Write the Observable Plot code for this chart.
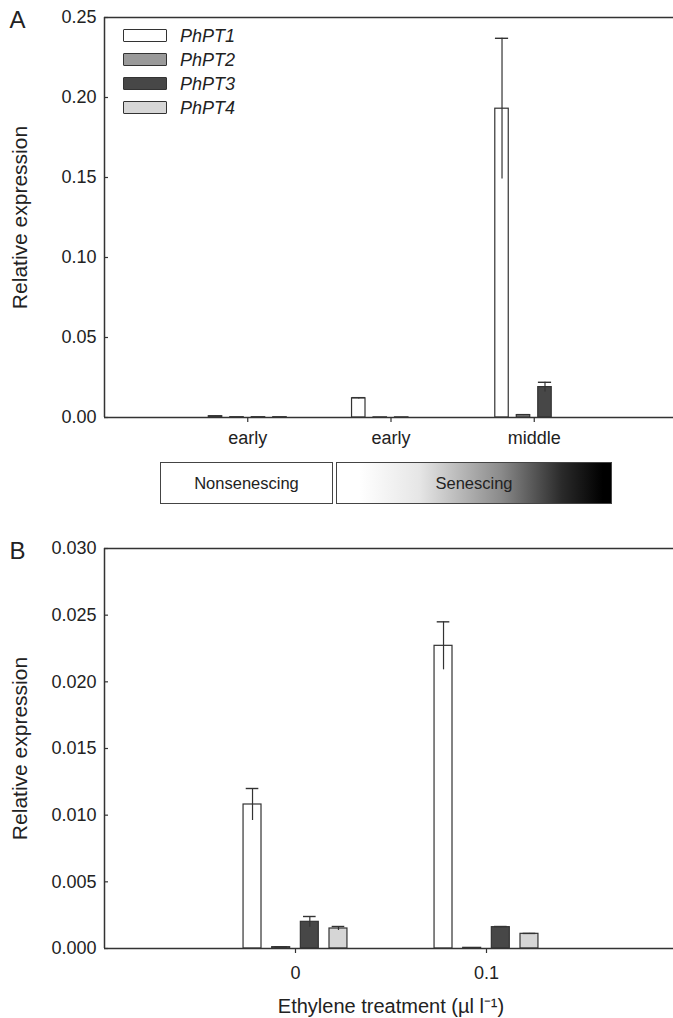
<!DOCTYPE html>
<html>
<head>
<meta charset="utf-8">
<script src="https://cdn.jsdelivr.net/npm/d3@7"></script>
<script src="https://cdn.jsdelivr.net/npm/@observablehq/plot@0.6"></script>
<style>
  html, body { margin: 0; padding: 0; background: #fff; }
  #wrap { position: relative; width: 673px; height: 1018px; font-family: "Liberation Sans", Arial, sans-serif; color: #222; overflow: hidden; }
  .lgbox { position: absolute; width: 42px; height: 11px; border: 1.3px solid #333; border-radius: 1px; }
  .lgtxt { position: absolute; font-size: 18px; font-style: italic; line-height: 18px; }
  .stage { position: absolute; top: 462px; height: 40px; border: 1.5px solid #444; font-size: 16.5px; display: flex; align-items: center; justify-content: center; }
</style>
</head>
<body>
<div id="wrap"></div>
<script>
// ---------- data ----------
const series = ["PhPT1", "PhPT2", "PhPT3", "PhPT4"];
const seriesColors = ["#ffffff", "#9a9a9a", "#474747", "#d6d6d6"];

// Panel A: developmental stages
const stageLabels = ["early", "early", "middle"];
const pt1A = [0.0008, 0.0120, 0.1930];
const pt2A = [0.0002, 0.0001, 0.0015];
const pt3A = [0.0002, 0.0001, 0.0190];
const pt4A = [0.0002, 0.0000, 0.0000];
const errPt1A = [0.0001, 0.0004, 0.0440];
const errPt2A = [0.0000, 0.0000, 0.0003];
const errPt3A = [0.0000, 0.0000, 0.0030];
const errPt4A = [0.0000, 0.0000, 0.0000];
const yTicksA = [0, 0.05, 0.10, 0.15, 0.20, 0.25];

// Panel B: ethylene treatment
const treatLabels = ["0", "0.1"];
const pt1B = [0.0108, 0.0227];
const pt2B = [0.0001, 0.00005];
const pt3B = [0.0020, 0.0016];
const pt4B = [0.0015, 0.0011];
const errPt1B = [0.0012, 0.0018];
const errPt2B = [0.00002, 0.0000];
const errPt3B = [0.0004, 0.00005];
const errPt4B = [0.00015, 0.00003];
const yTicksB = [0, 0.005, 0.010, 0.015, 0.020, 0.025, 0.030];

// ---------- helpers ----------
const FONT = '"Liberation Sans", Arial, sans-serif';
const STEP = 0.15;      // spacing of bars within a group (x units)
const HALF = 0.047;     // half bar width (x units)
const WIDTH = 673, ML = 104, MR = -4;

function buildRows(valueArrs, errArrs) {
  const rows = [];
  series.forEach((s, si) => {
    valueArrs[si].forEach((v, g) => {
      const x = g + 1 + (si - 1.5) * STEP;
      rows.push({ series: s, g, x, x1: x - HALF, x2: x + HALF, value: v, err: errArrs[si][g] });
    });
  });
  return rows;
}

const rowsA = buildRows([pt1A, pt2A, pt3A, pt4A], [errPt1A, errPt2A, errPt3A, errPt4A]);
const rowsB = buildRows([pt1B, pt2B, pt3B, pt4B], [errPt1B, errPt2B, errPt3B, errPt4B]);

function panel({ rows, labels, yMax, yTicks, fmt, height, marginTop, marginBottom, cap, letter, xTickPad, xLabel }) {
  const errRows = rows.filter(d => d.err > 0);
  const xMax = labels.length + 1;
  const tickLen = 4 * xMax / (WIDTH - ML - MR); // 4px inward y ticks, in x units
  const marks = [
    Plot.rectY(rows, { x1: "x1", x2: "x2", y: "value", fill: "series", stroke: "#333", strokeWidth: 1.2 }),
    Plot.ruleX(errRows, { x: "x", y1: d => d.value - d.err, y2: d => d.value + d.err, stroke: "#333", strokeWidth: 1.2 }),
    Plot.ruleY(errRows, { y: d => d.value + d.err, x1: d => d.x - cap, x2: d => d.x + cap, stroke: "#333", strokeWidth: 1.4 }),
    Plot.ruleY([0], { stroke: "#333", strokeWidth: 1.5 }),
    Plot.ruleY([yMax], { stroke: "#333", strokeWidth: 1.5 }),
    Plot.ruleX([0], { stroke: "#333", strokeWidth: 1.5 }),
    Plot.ruleY(yTicks, { x1: 0, x2: tickLen, stroke: "#333", strokeWidth: 1.2 }),
    Plot.axisY({ ticks: yTicks, tickFormat: d3.format(fmt), tickSize: 0, tickPadding: 8, label: null, fontSize: 18 }),
    Plot.axisX({ ticks: labels.map((_, i) => i + 1), tickFormat: d => labels[d - 1], tickSize: 5, tickPadding: xTickPad, label: null, fontSize: 18, stroke: "#333", strokeWidth: 1.2 }),
    Plot.text(["Relative expression"], { frameAnchor: "left", dx: -84, rotate: -90, fontSize: 21, fill: "#222", textAnchor: "middle", lineAnchor: "middle" }),
    Plot.text([letter], { frameAnchor: "top-left", dx: -95, dy: -7, fontSize: 24, fill: "#222", textAnchor: "start" })
  ];
  if (xLabel) {
    marks.push(Plot.text([xLabel], { frameAnchor: "bottom", dy: 50, fontSize: 20, fill: "#222", lineAnchor: "top" }));
  }
  return Plot.plot({
    width: WIDTH, height, marginTop, marginBottom, marginLeft: ML, marginRight: MR,
    style: { fontFamily: FONT, fontSize: "18px", color: "#222", background: "transparent", overflow: "visible" },
    x: { domain: [0, xMax], axis: null },
    y: { domain: [0, yMax], axis: null },
    color: { domain: series, range: seriesColors },
    marks
  });
}

const wrap = document.getElementById("wrap");

const plotA = panel({ rows: rowsA, labels: stageLabels, yMax: 0.25, yTicks: yTicksA, fmt: ".2f",
  height: 460, marginTop: 17, marginBottom: 43, cap: 0.046, letter: "A", xTickPad: 9 });
plotA.style.position = "absolute"; plotA.style.left = "0px"; plotA.style.top = "0px";
wrap.appendChild(plotA);

const plotB = panel({ rows: rowsB, labels: treatLabels, yMax: 0.030, yTicks: yTicksB, fmt: ".3f",
  height: 488, marginTop: 18, marginBottom: 70, cap: 0.033, letter: "B", xTickPad: 13,
  xLabel: "Ethylene treatment (\u00b5l l\u207b\u00b9)" });
plotB.style.position = "absolute"; plotB.style.left = "0px"; plotB.style.top = "530px";
wrap.appendChild(plotB);

// legend (panel A)
series.forEach((s, i) => {
  const box = document.createElement("div");
  box.className = "lgbox";
  box.style.left = "123px";
  box.style.top = (29 + i * 24) + "px";
  box.style.background = seriesColors[i];
  wrap.appendChild(box);
  const t = document.createElement("div");
  t.className = "lgtxt";
  t.style.left = "180px";
  t.style.top = (27 + i * 24) + "px";
  t.textContent = s;
  wrap.appendChild(t);
});

// stage strip between panels
const ns = document.createElement("div");
ns.className = "stage";
ns.style.left = "160px"; ns.style.width = "171px";
ns.textContent = "Nonsenescing";
wrap.appendChild(ns);
const se = document.createElement("div");
se.className = "stage";
se.style.left = "336px"; se.style.width = "274px";
se.style.background = "linear-gradient(to right, #ffffff 8%, #e6e6e6 30%, #8a8a8a 60%, #2a2a2a 82%, #000000 97%)";
se.textContent = "Senescing";
wrap.appendChild(se);
</script>
</body>
</html>
